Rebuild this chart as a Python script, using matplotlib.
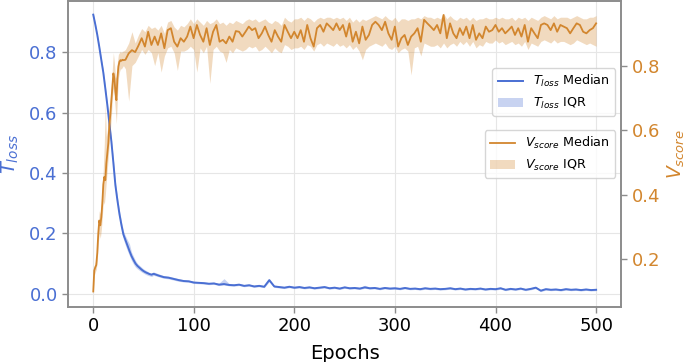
import numpy as np
import matplotlib
matplotlib.use('Agg')
from matplotlib import pyplot as plt
from matplotlib.lines import Line2D
from matplotlib.patches import Patch

blue = '#4a6fd3'
orange = '#d2862e'

# T_loss: dense over the fast drop, then every 5 epochs
t_early_epochs = np.arange(0, 60, 2)
t_tail_epochs = np.arange(60, 501, 5)

t_early_med = [0.925, 0.893, 0.858, 0.818, 0.775, 0.733, 0.680, 0.625, 0.565, 0.505,
               0.434, 0.360, 0.310, 0.265, 0.228, 0.196, 0.178, 0.160, 0.142, 0.125,
               0.112, 0.100, 0.092, 0.086, 0.080, 0.075, 0.071, 0.068, 0.065, 0.063]
t_early_lo = [0.920, 0.888, 0.853, 0.812, 0.769, 0.726, 0.672, 0.616, 0.555, 0.494,
              0.422, 0.345, 0.295, 0.250, 0.212, 0.180, 0.160, 0.142, 0.126, 0.110,
              0.098, 0.088, 0.082, 0.077, 0.072, 0.068, 0.064, 0.061, 0.059, 0.057]
t_early_hi = [0.928, 0.897, 0.862, 0.823, 0.781, 0.740, 0.688, 0.634, 0.575, 0.516,
              0.446, 0.372, 0.322, 0.278, 0.240, 0.208, 0.192, 0.178, 0.165, 0.138,
              0.124, 0.110, 0.100, 0.094, 0.088, 0.082, 0.078, 0.074, 0.070, 0.068]

t_tail_med = [0.066, 0.060, 0.055, 0.053, 0.049, 0.045, 0.042, 0.041, 0.037, 0.036,
              0.035, 0.033, 0.034, 0.030, 0.032, 0.029, 0.028, 0.030, 0.026, 0.028,
              0.024, 0.026, 0.023, 0.045, 0.024, 0.022, 0.020, 0.023, 0.020, 0.022,
              0.019, 0.021, 0.018, 0.020, 0.022, 0.018, 0.020, 0.017, 0.021, 0.018,
              0.019, 0.017, 0.021, 0.018, 0.019, 0.016, 0.019, 0.017, 0.018, 0.016,
              0.019, 0.016, 0.017, 0.015, 0.018, 0.016, 0.017, 0.015, 0.016, 0.018,
              0.015, 0.017, 0.014, 0.016, 0.015, 0.017, 0.014, 0.016, 0.015, 0.018,
              0.013, 0.016, 0.014, 0.017, 0.013, 0.016, 0.020, 0.010, 0.015, 0.013,
              0.014, 0.012, 0.015, 0.013, 0.014, 0.012, 0.014, 0.012, 0.013]
t_tail_lo = [0.061, 0.056, 0.051, 0.049, 0.045, 0.041, 0.039, 0.038, 0.034, 0.033,
             0.032, 0.030, 0.031, 0.027, 0.029, 0.026, 0.025, 0.027, 0.023, 0.025,
             0.021, 0.023, 0.020, 0.040, 0.021, 0.019, 0.017, 0.020, 0.017, 0.019,
             0.016, 0.018, 0.015, 0.017, 0.019, 0.015, 0.017, 0.014, 0.018, 0.015,
             0.016, 0.014, 0.018, 0.015, 0.016, 0.013, 0.016, 0.014, 0.015, 0.013,
             0.016, 0.013, 0.014, 0.012, 0.015, 0.013, 0.014, 0.012, 0.013, 0.015,
             0.012, 0.014, 0.011, 0.013, 0.012, 0.014, 0.011, 0.013, 0.012, 0.015,
             0.010, 0.013, 0.011, 0.014, 0.010, 0.013, 0.017, 0.007, 0.012, 0.010,
             0.011, 0.009, 0.012, 0.010, 0.011, 0.009, 0.011, 0.009, 0.010]
t_tail_hi = [0.072, 0.066, 0.060, 0.058, 0.054, 0.050, 0.046, 0.045, 0.041, 0.040,
             0.039, 0.037, 0.038, 0.035, 0.050, 0.034, 0.032, 0.034, 0.030, 0.032,
             0.028, 0.030, 0.027, 0.050, 0.028, 0.026, 0.024, 0.027, 0.024, 0.026,
             0.023, 0.025, 0.022, 0.024, 0.026, 0.022, 0.024, 0.021, 0.025, 0.022,
             0.023, 0.021, 0.028, 0.022, 0.023, 0.020, 0.023, 0.021, 0.022, 0.020,
             0.023, 0.020, 0.021, 0.019, 0.022, 0.020, 0.021, 0.019, 0.020, 0.022,
             0.019, 0.021, 0.018, 0.020, 0.019, 0.021, 0.018, 0.020, 0.019, 0.022,
             0.017, 0.020, 0.018, 0.021, 0.017, 0.020, 0.024, 0.014, 0.019, 0.017,
             0.018, 0.016, 0.019, 0.017, 0.018, 0.016, 0.018, 0.016, 0.017]

v_early_epochs = np.arange(0, 31)

v_early_med = [0.100, 0.165, 0.175, 0.182, 0.220, 0.280, 0.320, 0.305, 0.330, 0.372,
               0.432, 0.455, 0.445, 0.497, 0.528, 0.560, 0.615, 0.650, 0.693, 0.740,
               0.776, 0.760, 0.720, 0.693, 0.760, 0.797, 0.812, 0.817, 0.815, 0.818, 0.817]
v_early_lo = [0.095, 0.150, 0.160, 0.168, 0.195, 0.250, 0.280, 0.265, 0.290, 0.330,
              0.380, 0.370, 0.400, 0.440, 0.480, 0.520, 0.560, 0.600, 0.640, 0.700,
              0.730, 0.700, 0.660, 0.620, 0.700, 0.760, 0.780, 0.790, 0.790, 0.795, 0.800]
v_early_hi = [0.105, 0.180, 0.190, 0.200, 0.250, 0.310, 0.350, 0.340, 0.380, 0.420,
              0.480, 0.560, 0.683, 0.580, 0.600, 0.620, 0.660, 0.700, 0.740, 0.790,
              0.840, 0.810, 0.770, 0.760, 0.810, 0.835, 0.840, 0.845, 0.840, 0.845, 0.845]

v_tail_med = [0.818, 0.838, 0.848, 0.842, 0.862,
              0.885, 0.859, 0.905, 0.864, 0.890, 0.864, 0.900, 0.854, 0.910, 0.916,
              0.874, 0.859, 0.885, 0.874, 0.890, 0.921, 0.885, 0.926, 0.895, 0.874,
              0.916, 0.864, 0.905, 0.926, 0.874, 0.880, 0.869, 0.890, 0.874, 0.907,
              0.905, 0.890, 0.905, 0.921, 0.910, 0.916, 0.885, 0.900, 0.921, 0.895,
              0.874, 0.910, 0.890, 0.874, 0.926, 0.905, 0.885, 0.905,
              0.885, 0.910, 0.874, 0.926, 0.885, 0.859, 0.916, 0.926, 0.905, 0.931,
              0.921, 0.910, 0.931, 0.910, 0.926, 0.890, 0.931, 0.874, 0.905, 0.869,
              0.921, 0.880, 0.895, 0.926, 0.936, 0.926, 0.910, 0.936, 0.900, 0.880,
              0.921, 0.859, 0.885, 0.895, 0.864, 0.890, 0.900, 0.916, 0.874, 0.942,
              0.931, 0.921, 0.910, 0.926, 0.900, 0.957, 0.885, 0.931,
              0.900, 0.885, 0.916, 0.895, 0.921, 0.885, 0.926, 0.880, 0.900, 0.885,
              0.921, 0.905, 0.910, 0.926, 0.905, 0.916, 0.900, 0.910, 0.921, 0.895,
              0.916, 0.890, 0.926, 0.874, 0.916, 0.900, 0.885, 0.926, 0.931, 0.926,
              0.910, 0.931, 0.905, 0.926, 0.921, 0.916, 0.900, 0.916, 0.931, 0.926,
              0.905, 0.900, 0.910, 0.916, 0.931]
v_tail_lo = [0.790, 0.690, 0.800, 0.810, 0.830,
             0.850, 0.835, 0.850, 0.840, 0.800, 0.840, 0.780, 0.830, 0.855, 0.860,
             0.840, 0.785, 0.845, 0.845, 0.850, 0.860, 0.850, 0.780, 0.855, 0.840,
             0.860, 0.745, 0.850, 0.860, 0.845, 0.840, 0.810, 0.850, 0.840, 0.855,
             0.850, 0.845, 0.850, 0.860, 0.855, 0.860, 0.845, 0.850, 0.860, 0.850,
             0.840, 0.855, 0.845, 0.840, 0.865, 0.860, 0.850, 0.855,
             0.855, 0.860, 0.850, 0.865, 0.860, 0.845, 0.865, 0.870, 0.860, 0.870,
             0.865, 0.860, 0.870, 0.860, 0.865, 0.855, 0.865, 0.850, 0.860, 0.845,
             0.818, 0.850, 0.860, 0.865, 0.870, 0.865, 0.860, 0.870, 0.855, 0.850,
             0.860, 0.840, 0.850, 0.855, 0.845, 0.771, 0.855, 0.860, 0.830, 0.870,
             0.865, 0.860, 0.860, 0.865, 0.855, 0.870, 0.855, 0.865,
             0.870, 0.860, 0.875, 0.865, 0.875, 0.860, 0.875, 0.855, 0.865, 0.860,
             0.875, 0.870, 0.870, 0.880, 0.870, 0.875, 0.865, 0.870, 0.875, 0.865,
             0.870, 0.860, 0.875, 0.850, 0.870, 0.865, 0.860, 0.875, 0.880, 0.875,
             0.870, 0.880, 0.870, 0.875, 0.875, 0.870, 0.865, 0.870, 0.880, 0.875,
             0.870, 0.865, 0.870, 0.865, 0.860]
v_tail_hi = [0.850, 0.870, 0.905, 0.870, 0.895,
             0.915, 0.905, 0.925, 0.915, 0.920, 0.910, 0.925, 0.900, 0.935, 0.940,
             0.920, 0.910, 0.925, 0.920, 0.930, 0.945, 0.930, 0.945, 0.935, 0.925,
             0.940, 0.930, 0.935, 0.945, 0.930, 0.935, 0.925, 0.935, 0.930, 0.940,
             0.935, 0.930, 0.940, 0.945, 0.940, 0.945, 0.935, 0.940, 0.945, 0.935,
             0.930, 0.940, 0.935, 0.925, 0.950, 0.940, 0.935, 0.945,
             0.945, 0.950, 0.940, 0.950, 0.945, 0.935, 0.945, 0.950, 0.945, 0.950,
             0.950, 0.945, 0.950, 0.945, 0.950, 0.940, 0.950, 0.935, 0.945, 0.935,
             0.945, 0.940, 0.945, 0.950, 0.955, 0.950, 0.945, 0.955, 0.945, 0.940,
             0.950, 0.935, 0.945, 0.945, 0.940, 0.945, 0.945, 0.950, 0.945, 0.955,
             0.950, 0.950, 0.945, 0.950, 0.945, 0.962, 0.945, 0.955,
             0.945, 0.940, 0.950, 0.945, 0.950, 0.940, 0.950, 0.940, 0.945, 0.945,
             0.950, 0.945, 0.945, 0.950, 0.945, 0.950, 0.945, 0.945, 0.950, 0.940,
             0.950, 0.945, 0.950, 0.940, 0.950, 0.945, 0.940, 0.950, 0.955, 0.950,
             0.945, 0.955, 0.945, 0.950, 0.950, 0.950, 0.945, 0.950, 0.955, 0.950,
             0.945, 0.945, 0.950, 0.950, 0.955]
v_tail_epochs = np.linspace(32, 500, len(v_tail_med))

t_epochs = np.concatenate([t_early_epochs, t_tail_epochs])
t_med = np.array(t_early_med + t_tail_med)
t_lo = np.array(t_early_lo + t_tail_lo)
t_hi = np.array(t_early_hi + t_tail_hi)

v_epochs = np.concatenate([v_early_epochs, v_tail_epochs])
v_med = np.array(v_early_med + v_tail_med)
v_lo = np.array(v_early_lo + v_tail_lo)
v_hi = np.array(v_early_hi + v_tail_hi)

fig, ax1 = plt.subplots(figsize=(6.88, 3.62), dpi=100)
fig.subplots_adjust(left=0.099, right=0.903, bottom=0.152, top=0.997)
ax2 = ax1.twinx()

ax1.plot(t_epochs, t_med, color=blue, lw=1.4)
ax1.fill_between(t_epochs, t_lo, t_hi, color=blue, alpha=0.3, lw=0)
ax2.plot(v_epochs, v_med, color=orange, lw=1.3)
ax2.fill_between(v_epochs, v_lo, v_hi, color=orange, alpha=0.3, lw=0)

ax1.set_xlim(-25, 525)
ax1.set_ylim(-0.044, 0.97)
ax2.set_ylim(0.052, 1.0)
ax1.set_xticks([0, 100, 200, 300, 400, 500])
ax1.set_yticks([0.0, 0.2, 0.4, 0.6, 0.8])
ax2.set_yticks([0.2, 0.4, 0.6, 0.8])

ax1.grid(True, color='#e6e6e6', lw=0.8)
ax1.set_axisbelow(True)
for ax in (ax1, ax2):
    for sp in ax.spines.values():
        sp.set_color('#8c8c8c')
        sp.set_linewidth(1.2)
    ax.tick_params(length=4, width=1, color='#8c8c8c', labelsize=13)
ax1.tick_params(axis='y', labelcolor=blue)
ax2.tick_params(axis='y', labelcolor=orange)

ax1.set_xlabel('Epochs', fontsize=14, labelpad=6)
ax1.set_ylabel(r'$T_{loss}$', fontsize=14, color=blue)
ax2.set_ylabel(r'$V_{score}$', fontsize=13.5, color=orange)
ax1.yaxis.set_label_coords(-0.086, 0.5)
ax2.yaxis.set_label_coords(1.08, 0.5)

# both legends go on the top axes so the orange curve does not cover them
h1 = [Line2D([], [], color=blue, lw=1.4), Patch(facecolor=blue, alpha=0.3, lw=0)]
h2 = [Line2D([], [], color=orange, lw=1.3), Patch(facecolor=orange, alpha=0.3, lw=0)]
leg1 = ax2.legend(h1, [r'$T_{loss}$ Median', r'$T_{loss}$ IQR'], loc='upper right',
                  bbox_to_anchor=(0.989, 0.781), borderaxespad=0, fontsize=9.2)
ax2.add_artist(leg1)
ax2.legend(h2, [r'$V_{score}$ Median', r'$V_{score}$ IQR'], loc='upper right',
           bbox_to_anchor=(0.989, 0.578), borderaxespad=0, fontsize=9.2)

plt.savefig('out.png', dpi=100)
